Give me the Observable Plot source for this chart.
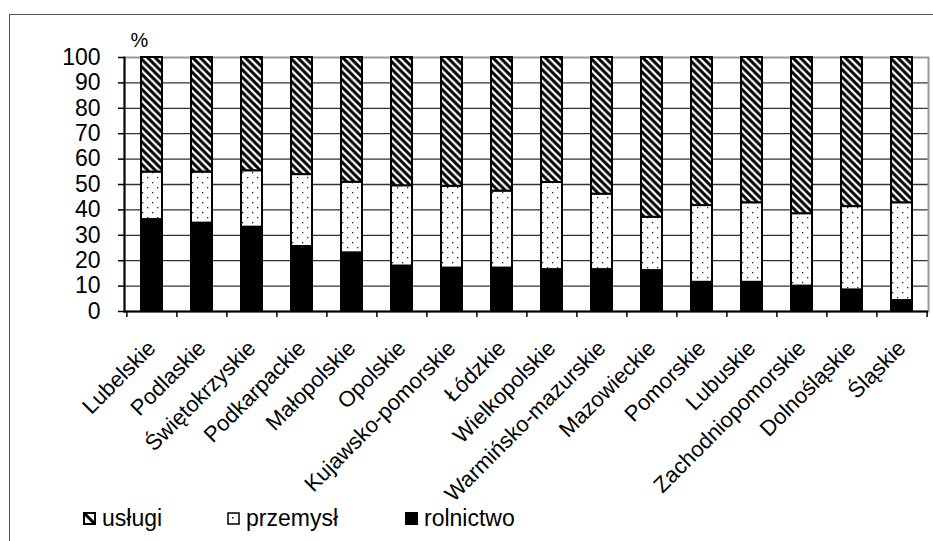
<!DOCTYPE html>
<html><head><meta charset="utf-8">
<script src="https://cdn.jsdelivr.net/npm/d3@7"></script>
<script src="https://cdn.jsdelivr.net/npm/@observablehq/plot@0.6"></script>
<style>
html,body{margin:0;padding:0;background:#fff;}
#wrap{position:relative;width:933px;height:541px;overflow:hidden;font-family:"Liberation Sans",Arial,sans-serif;color:#000;}
#frame{position:absolute;left:9px;top:14px;width:1000px;height:1000px;border:1.5px solid #555;box-sizing:border-box;}
#chart{position:absolute;left:0;top:0;}
.item{position:absolute;top:505px;height:26px;display:flex;align-items:center;font-size:23px;line-height:26px;}
.item svg{margin-right:6px;}
</style></head>
<body>
<div id="wrap"><div id="frame"></div><div id="chart"></div>
<div class="item" style="left:83px"><svg width="13" height="13"><rect x="1" y="1" width="11" height="11" fill="#fff" stroke="#000" stroke-width="2"/><path d="M2,2 L11,11" stroke="#000" stroke-width="3"/></svg><span>usługi</span></div>
<div class="item" style="left:227px"><svg width="13" height="13"><rect x="1" y="1" width="11" height="11" fill="#fff" stroke="#000" stroke-width="1.5"/><rect x="5" y="5" width="1.5" height="1.5" fill="#000"/></svg><span>przemysł</span></div>
<div class="item" style="left:405px"><svg width="13" height="13"><rect x="0" y="0" width="13" height="13" fill="#000"/></svg><span>rolnictwo</span></div>
</div>
<script>
const regions = ["Lubelskie","Podlaskie","Świętokrzyskie","Podkarpackie","Małopolskie","Opolskie","Kujawsko-pomorskie","Łódzkie","Wielkopolskie","Warmińsko-mazurskie","Mazowieckie","Pomorskie","Lubuskie","Zachodniopomorskie","Dolnośląskie","Śląskie"];
const rolnictwo = [36.2,34.8,33.2,25.6,23.1,17.9,17.1,17.1,16.5,16.5,16.1,11.5,11.5,10.0,8.5,4.3];
const przemysl  = [18.7,20.1,22.2,28.3,27.8,31.6,32.2,30.3,34.3,29.7,21.0,30.2,31.3,28.5,32.8,38.5];
const uslugi    = [45.1,45.1,44.6,46.1,49.1,50.5,50.7,52.6,49.2,53.8,62.9,58.3,57.2,61.5,58.7,57.2];
const sectors = ["rolnictwo","przemysł","usługi"];
const yTicks = [0,10,20,30,40,50,60,70,80,90,100];
const gridTicks = [10,20,30,40,50,60,70,80,90];

const rows = [];
regions.forEach((r,i)=>{
  rows.push({region:r, sector:"rolnictwo", value:rolnictwo[i]});
  rows.push({region:r, sector:"przemysł", value:przemysl[i]});
  rows.push({region:r, sector:"usługi", value:uslugi[i]});
});

const W = 933, H = 490, mL = 124, mR = 5;
const step = (W - mL - mR) / regions.length;
const font = "Liberation Sans, Arial, sans-serif";

const chart = Plot.plot({
  width: W, height: H,
  marginLeft: mL, marginRight: mR, marginTop: 57, marginBottom: 179,
  style: {fontFamily: font, fontSize: "22px", color: "#000", background: "transparent", overflow: "visible"},
  x: {domain: regions, paddingInner: 0.58, paddingOuter: 0.29, label: null},
  y: {domain: [0, 100], label: null},
  color: {domain: sectors, range: ["#000", "url(#pPrz)", "url(#pUsl)"]},
  marks: [
    Plot.ruleY(gridTicks, {stroke: "#333", strokeWidth: 1.3}),
    Plot.frame({stroke: "#999", strokeWidth: 2}),
    Plot.barY(rows, Plot.stackY({x: "region", y: "value", z: "sector", fill: "sector", order: sectors, stroke: "#000", strokeWidth: 2})),
    Plot.ruleY([0], {stroke: "#000", strokeWidth: 2}),
    Plot.frame({anchor: "left", stroke: "#000", strokeWidth: 2}),
    Plot.axisY({ticks: yTicks, tickSize: 6, tickPadding: 18, fontSize: 23, stroke: "#000", strokeWidth: 1.5, label: null}),
    Plot.axisX({tickSize: 6, tickFormat: () => "", dx: -step/2, stroke: "#000", strokeWidth: 1.5, label: null}),
    Plot.axisX([regions[regions.length-1]], {tickSize: 6, tickFormat: () => "", dx: step/2, stroke: "#000", strokeWidth: 1.5, label: null}),
    Plot.axisX({tickSize: 0, tickRotate: -45, tickPadding: 33, fontSize: 22, label: null}),
    Plot.text(["%"], {frameAnchor: "top-left", dx: 6, dy: -25, text: d => d, textAnchor: "start", fontSize: 20})
  ]
});

d3.select(chart).insert("defs", ":first-child").html(`
<pattern id="pUsl" patternUnits="userSpaceOnUse" width="7.5" height="7.5">
  <rect width="7.5" height="7.5" fill="#fff"/>
  <path d="M-1,-1 L8.5,8.5 M-1,6.5 L1,8.5 M6.5,-1 L8.5,1" stroke="#000" stroke-width="3"/>
</pattern>
<pattern id="pPrz" patternUnits="userSpaceOnUse" width="10" height="10">
  <rect width="10" height="10" fill="#fff"/>
  <rect x="2" y="2" width="1.3" height="1.3" fill="#222"/>
  <rect x="7" y="7" width="1.3" height="1.3" fill="#222"/>
</pattern>`);

document.getElementById("chart").appendChild(chart);
</script>
</body></html>
